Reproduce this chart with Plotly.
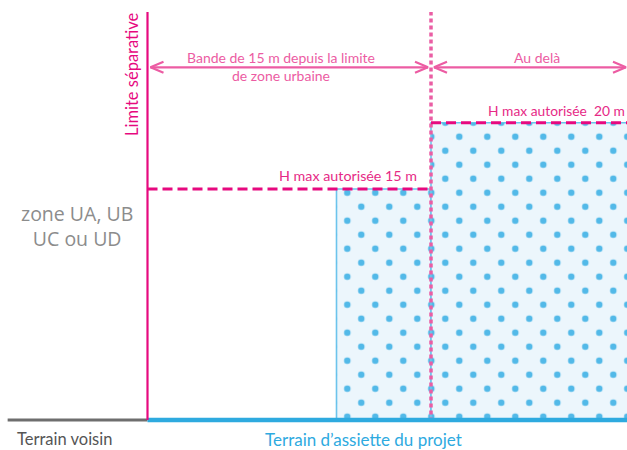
import plotly.graph_objects as go

# ---------------- data (metres, schematic) ----------------
band_edges = [0, 15]                 # limite séparative, fin de la bande de 15 m
view_right = 25.37                   # visible end of the parcel
neighbour_left = -7.4                # visible start of "Terrain voisin"
building_start = [10, 15]
building_end = [15, 26]
building_height = [15, 19.3]         # drawn heights (H max 15 m / 20 m)
height_labels = ["H max autorisée 15 m", "H max autorisée\u00a0 20 m"]
band_labels = ["Bande de 15 m depuis la limite<br>de zone urbaine", "Au delà"]
limit_top = 26.5
arrow_level = 22.9

# ---------------- layout helpers ----------------
W, H = 627, 450
X0_PX, PX_X = 147.5, 18.9     # pixel of x=0 and pixels per metre
Y0_PX, PX_Y = 420.0, 15.4     # pixel of ground and pixels per unit


def xr(left_px):
    return [(left_px - X0_PX) / PX_X, (W - X0_PX) / PX_X]


def yr(top_px):
    return [-(H - Y0_PX) / PX_Y, (Y0_PX - top_px) / PX_Y]


def px2x(px):
    return (px - X0_PX) / PX_X


def py2y(py):
    return (Y0_PX - py) / PX_Y


MAGENTA = "#e6097f"
PINK = "#ec5ca3"
HLAB = "#e62a86"
DOTLINE = "#ea5ea4"
BLUE = "#2eaadf"
BG = "#ecf6fc"
DOT = "#52b9e8"
EDGE = "#6cc4ec"
FONT = "Lato"

centers = [(a + b) / 2 for a, b in zip(building_start, building_end)]
widths = [b - a for a, b in zip(building_start, building_end)]

fig = go.Figure()

# layer A: background, outline, dots
fig.add_trace(go.Bar(
    x=centers, y=building_height, width=widths, base=0,
    xaxis="x", yaxis="y",
    marker=dict(color=BG, line=dict(color=EDGE, width=1.6),
                pattern=dict(shape=".", size=28, solidity=0.042,
                             fgcolor=DOT, bgcolor=BG, fillmode="replace")),
    showlegend=False, hoverinfo="skip"))
# layer B: staggered dots
fig.add_trace(go.Bar(
    x=centers, y=building_height, width=widths, base=0,
    xaxis="x2", yaxis="y2",
    marker=dict(color="rgba(0,0,0,0)", line=dict(width=0),
                pattern=dict(shape=".", size=28, solidity=0.042,
                             fgcolor=DOT, bgcolor="rgba(0,0,0,0)", fillmode="replace")),
    showlegend=False, hoverinfo="skip"))

# double arrows with open chevrons
ax, ay = 13 / PX_X, 5.5 / PX_Y
inset = 3 / PX_X
spans = [(band_edges[0] + inset, band_edges[1] - inset),
         (band_edges[1] + inset, view_right - 1 / PX_X)]
axs, ays = [], []
for a, b in spans:
    axs += [a, b, None, a + ax, a, a + ax, None, b - ax, b, b - ax, None]
    ays += [arrow_level, arrow_level, None, arrow_level + ay, arrow_level, arrow_level - ay, None,
            arrow_level + ay, arrow_level, arrow_level - ay, None]
fig.add_trace(go.Scatter(x=axs, y=ays, mode="lines", xaxis="x3", yaxis="y3",
                         line=dict(color=PINK, width=2.2), showlegend=False, hoverinfo="skip"))

shapes = [
    # dotted 15 m line
    dict(type="line", xref="x3", yref="y3", x0=band_edges[1], x1=band_edges[1], y0=-0.1, y1=limit_top,
         line=dict(color=DOTLINE, width=3.5, dash="4px,3px")),
    # ground
    dict(type="line", xref="x3", yref="y3", x0=neighbour_left, x1=band_edges[0], y0=0, y1=0,
         line=dict(color="#6e6e6e", width=3)),
    dict(type="line", xref="x3", yref="y3", x0=band_edges[0], x1=view_right + 1, y0=0, y1=0,
         line=dict(color=BLUE, width=4.5)),
    # limite séparative
    dict(type="line", xref="x3", yref="y3", x0=band_edges[0], x1=band_edges[0], y0=0, y1=limit_top,
         line=dict(color=MAGENTA, width=2.2)),
    # H max dashed lines
    dict(type="line", xref="x3", yref="y3", x0=band_edges[0], x1=band_edges[1],
         y0=building_height[0], y1=building_height[0],
         line=dict(color=MAGENTA, width=3, dash="10px,5px")),
    dict(type="line", xref="x3", yref="y3", x0=band_edges[1], x1=view_right + 1,
         y0=building_height[1], y1=building_height[1],
         line=dict(color=MAGENTA, width=3, dash="10px,5px")),
]

ann = []


def text(t, px, py, size, color, xanchor="center", angle=0, family=FONT):
    ann.append(dict(text=t, x=px2x(px), y=py2y(py), xref="x3", yref="y3", showarrow=False,
                    xanchor=xanchor, yanchor="middle", textangle=angle,
                    font=dict(family=family, size=size, color=color)))


text(band_labels[0], 281, 66, 14, PINK)
text(band_labels[1], 536.5, 57, 14, PINK)
text(height_labels[0], 419, 175, 14.3, HLAB, xanchor="right")
text(height_labels[1], 627, 110, 13.8, HLAB, xanchor="right")
text("Limite séparative", 131.5, 74.5, 16.5, MAGENTA, angle=-90)
text("zone UA, UB<br>UC ou UD", 77, 225.5, 19.5, "#8c8c8c", family="Open Sans")
text("Terrain voisin", 15, 439, 16.5, "#555555", xanchor="left")
text("Terrain d\u2019assiette du projet", 363.5, 439, 17, BLUE)

hidden = dict(visible=False, fixedrange=True)
fig.update_layout(
    width=W, height=H, margin=dict(l=0, r=0, t=0, b=0),
    paper_bgcolor="white", plot_bgcolor="rgba(0,0,0,0)",
    barmode="overlay", showlegend=False,
    xaxis=dict(domain=[25.3 / W, 1], range=xr(25.3), **hidden),
    yaxis=dict(domain=[0, 1 - 10.7 / H], range=yr(10.7), **hidden),
    xaxis2=dict(domain=[11.3 / W, 1], range=xr(11.3), anchor="y2", **hidden),
    yaxis2=dict(domain=[0, 1 - 24.7 / H], range=yr(24.7), anchor="x2", **hidden),
    xaxis3=dict(domain=[0, 1], range=xr(0), anchor="y3", **hidden),
    yaxis3=dict(domain=[0, 1], range=yr(0), anchor="x3", **hidden),
    shapes=shapes, annotations=ann,
)

fig.write_html("out.html", config={"displayModeBar": False},
               post_script="document.body.style.margin='0';document.body.style.overflow='hidden';")
